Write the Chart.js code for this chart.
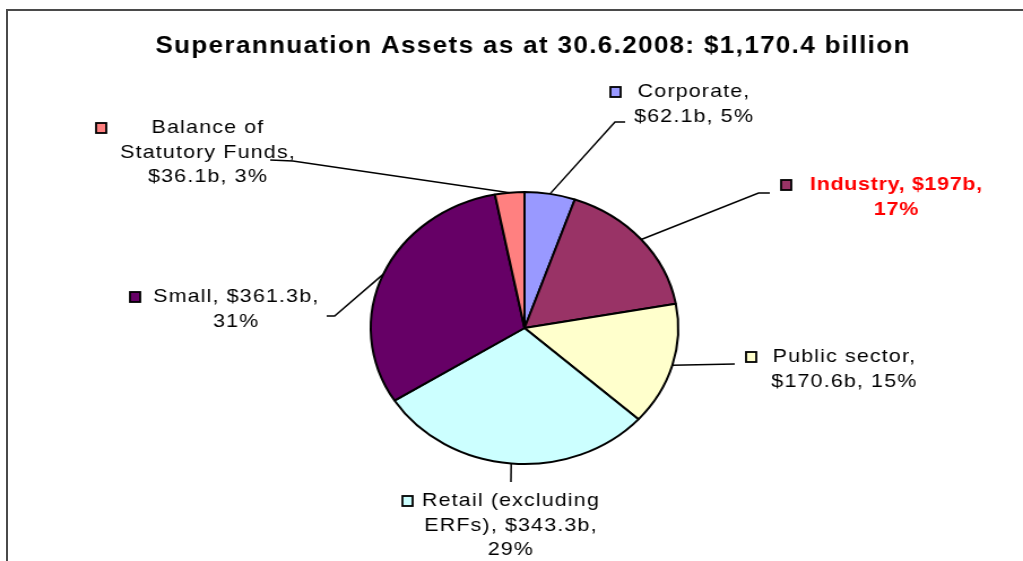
<!DOCTYPE html>
<html>
<head>
<meta charset="utf-8">
<script src="https://cdn.jsdelivr.net/npm/chart.js@4.4.1/dist/chart.umd.min.js"></script>
<style>
  body { margin: 0; background: #fff; overflow: hidden; }
  #stage { position: relative; width: 1023px; height: 561px; }
  /* the source picture is stretched sideways, so the chart is drawn narrow and scaled */
  #wrap { position: absolute; left: 0; top: 0; width: 905px; height: 561px;
          transform: scaleX(1.1304); transform-origin: 0 0; }
  .frame-top { position: absolute; left: 6px; top: 9px; width: 1017px; height: 2px; background: #4a4a4a; }
  .frame-left { position: absolute; left: 6px; top: 9px; width: 2px; height: 552px; background: #4a4a4a; }
</style>
</head>
<body>
<div id="stage">
  <div id="wrap"><canvas id="pieChart" width="905" height="561"></canvas></div>
  <div class="frame-top"></div>
  <div class="frame-left"></div>
</div>

<script>
    // superannuation assets by fund type, 30 June 2008 ($ billion)
    var categories = ['Corporate', 'Industry', 'Public sector', 'Retail (excluding ERFs)', 'Small', 'Balance of Statutory Funds'];
    var assets = [62.1, 197, 170.6, 343.3, 361.3, 36.1];
    var shares = [5, 17, 15, 29, 31, 3];
    var colours = ['#9999FF', '#993366', '#FFFFCC', '#CCFFFF', '#660066', '#FF8080'];
    var titleText = 'Superannuation Assets as at 30.6.2008: $1,170.4 billion';

    // where each data label sits (unscaled px): words per line, text centre, first line y,
    // key left edge, and the elbow points of the leader line
    var labelLayout = [
        { words: [1, 2],    cx: 614, y: 92,  key: 540, color: '#000', bold: false, leader: [[553, 122], [544, 122]] },
        { words: [2, 1],    cx: 793, y: 185, key: 691, color: '#FF0000', bold: true, leader: [[681, 193], [671, 193]] },
        { words: [2, 2],    cx: 747, y: 357, key: 660, color: '#000', bold: false, leader: [[650, 364]] },
        { words: [2, 2, 1], cx: 452, y: 501, key: 356, color: '#000', bold: false, leader: [[452, 482]] },
        { words: [2, 1],    cx: 209, y: 297, key: 115, color: '#000', bold: false, leader: [[289, 316], [296, 316]] },
        { words: [2, 2, 2], cx: 184, y: 128, key: 85,  color: '#000', bold: false, leader: [[239, 160], [259, 161]] }
    ];

    function labelLines(i) {
        var text = categories[i] + ', $' + assets[i] + 'b, ' + shares[i] + '%';
        var words = text.split(' ');
        var out = [], k = 0;
        labelLayout[i].words.forEach(function(n) {
            out.push(words.slice(k, k + n).join(' '));
            k += n;
        });
        return out;
    }

    var labelPlugin = {
        id: 'excelLabels',
        afterDraw: function(chart) {
            var ctx = chart.ctx;
            var arcs = chart.getDatasetMeta(0).data;
            ctx.save();

            // title, spaced out to the width it has in the original
            ctx.fillStyle = '#000';
            ctx.font = 'bold 23px "Liberation Sans", Arial, sans-serif';
            ctx.letterSpacing = '0px';
            var w = ctx.measureText(titleText).width;
            var gap = Math.max(0, (668 - w) / titleText.length);
            ctx.letterSpacing = gap.toFixed(2) + 'px';
            ctx.textAlign = 'center';
            ctx.textBaseline = 'middle';
            ctx.fillText(titleText, 471 + gap / 2, 47);

            arcs.forEach(function(arc, i) {
                var L = labelLayout[i];
                var mid = (arc.startAngle + arc.endAngle) / 2;
                var px = arc.x + Math.cos(mid) * arc.outerRadius;
                var py = arc.y + Math.sin(mid) * arc.outerRadius;

                // leader line from the slice edge to the label
                ctx.strokeStyle = '#000';
                ctx.lineWidth = 1.5;
                ctx.beginPath();
                ctx.moveTo(px, py);
                for (var j = L.leader.length - 1; j >= 0; j--) {
                    ctx.lineTo(L.leader[j][0], L.leader[j][1]);
                }
                ctx.stroke();

                // legend key
                ctx.fillStyle = colours[i];
                ctx.fillRect(L.key, L.y - 5, 9, 10);
                ctx.lineWidth = 1.8;
                ctx.strokeRect(L.key, L.y - 5, 9, 10);

                // label text
                ctx.fillStyle = L.color;
                ctx.font = (L.bold ? 'bold ' : '') + '19px "Liberation Sans", Arial, sans-serif';
                ctx.letterSpacing = L.bold ? '0.6px' : '1px';
                ctx.textAlign = 'center';
                labelLines(i).forEach(function(line, n) {
                    ctx.fillText(line, L.cx, L.y + n * 24.5);
                });
            });
            ctx.restore();
        }
    };

    var ctxP = document.getElementById('pieChart').getContext('2d');
    var myPieChart = new Chart(ctxP, {
        type: 'pie',
        data: {
            labels: categories,
            datasets: [
                {
                    data: assets,
                    backgroundColor: colours,
                    borderColor: '#000',
                    borderWidth: 2
                }
            ]
        },
        options: {
            responsive: false,
            animation: false,
            layout: { padding: { top: 191, bottom: 96, left: 314, right: 291 } },
            plugins: {
                legend: { display: false },
                tooltip: { enabled: false }
            }
        },
        plugins: [labelPlugin]
    });
</script>
</body>
</html>
